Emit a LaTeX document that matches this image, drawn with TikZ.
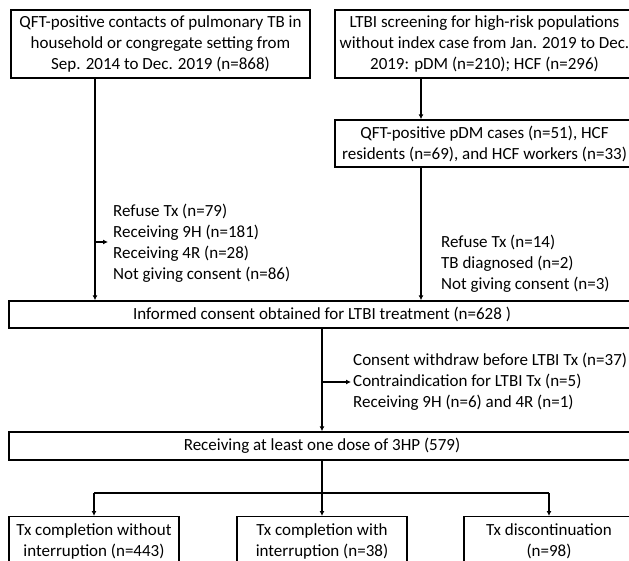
\documentclass[tikz,border=0pt]{standalone}
\usepackage{fontspec}
\setmainfont{Carlito}
\usetikzlibrary{arrows.meta}
\begin{document}
\begin{tikzpicture}[x=1pt,y=-1pt,
  box/.style={draw,line width=1.4pt,inner sep=0pt,align=center,font=\fontsize{17}{21}\selectfont},
  note/.style={inner sep=0pt,align=left,anchor=west,font=\fontsize{17}{21}\selectfont},
  ln/.style={line width=1.4pt},
  arr/.style={line width=1.4pt,-{Latex[length=5pt,width=5pt]}}]
\clip (0,0) rectangle (629,561);
\fill[white] (0,0) rectangle (629,561);
% boxes
\node[box,minimum width=299pt,minimum height=68pt] (b1) at (160.5,44)
  {QFT-positive contacts of pulmonary TB in\\household or congregate setting from\\Sep. 2014 to Dec. 2019 (n=868)};
\node[box,minimum width=299pt,minimum height=68pt] (b2) at (484.5,44)
  {LTBI screening for high-risk populations\\without index case from Jan. 2019 to Dec.\\2019: pDM (n=210); HCF (n=296)};
\node[box,minimum width=299pt,minimum height=47pt] (b3) at (484.5,143.5)
  {QFT-positive pDM cases (n=51), HCF\\residents (n=69), and HCF workers (n=33)};
\node[box,minimum width=626pt,minimum height=27pt] (cons) at (322,314.5)
  {Informed consent obtained for LTBI treatment (n=628 )};
\node[box,minimum width=626pt,minimum height=28pt] (hp) at (322,446)
  {Receiving at least one dose of 3HP (579)};
\node[box,minimum width=170pt,inner ysep=7pt,anchor=north] (l) at (94,516)
  {Tx completion without\\interruption (n=443)};
\node[box,minimum width=170pt,inner ysep=7pt,anchor=north] (m) at (322,516)
  {Tx completion with\\interruption (n=38)};
\node[box,minimum width=170pt,inner ysep=7pt,anchor=north] (r) at (549,516)
  {Tx discontinuation\\(n=98)};
% side notes
\node[note] (n1) at (113,243) {Refuse Tx (n=79)\\Receiving 9H (n=181)\\Receiving 4R (n=28)\\Not giving consent (n=86)};
\node[note] (n2) at (441,264) {Refuse Tx (n=14)\\TB diagnosed (n=2)\\Not giving consent (n=3)};
\node[note] (n3) at (353,382) {Consent withdraw before LTBI Tx (n=37)\\Contraindication for LTBI Tx (n=5)\\Receiving 9H (n=6) and 4R (n=1)};
% connectors
\coordinate (c1) at (95,242);
\coordinate (t1) at (108,242);
\coordinate (x2) at (421,0);
\coordinate (c2) at (322,382);
\coordinate (t2) at (351,382);
\coordinate (j) at (322,493);
\draw[arr] (b1.south -| c1) -- (cons.north -| c1);
\draw[arr] (c1) -- (t1);
\draw[arr] (b2.south -| x2) -- (b3.north -| x2);
\draw[arr] (b3.south -| x2) -- (cons.north -| x2);
\draw[arr] (cons.south) -- (hp.north);
\draw[arr] (c2) -- (t2);
\draw[arr] (hp.south) -- (m.north);
\draw[ln] (l.north |- j) -- (r.north |- j);
\draw[arr] (l.north |- j) -- (l.north);
\draw[arr] (r.north |- j) -- (r.north);
\end{tikzpicture}
\end{document}
